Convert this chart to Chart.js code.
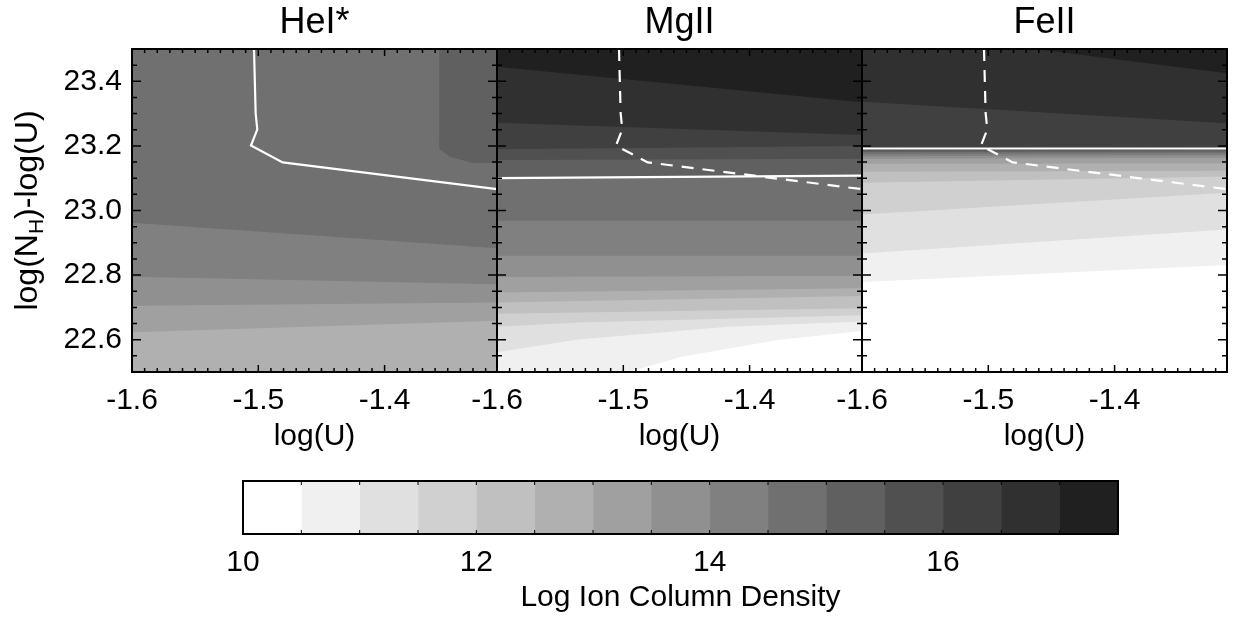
<!DOCTYPE html>
<html>
<head>
<meta charset="utf-8">
<script src="https://cdn.jsdelivr.net/npm/chart.js@4.4.1/dist/chart.umd.min.js"></script>
<style>
  html, body { margin: 0; padding: 0; background: #fff; overflow: hidden; }
  #wrap { position: relative; width: 1238px; height: 620px; }
  canvas { position: absolute; }
</style>
</head>
<body>
<div id="wrap">
  <canvas id="heCanvas" width="517" height="460" style="left:0;top:0"></canvas>
  <canvas id="mgCanvas" width="445" height="460" style="left:437px;top:0"></canvas>
  <canvas id="feCanvas" width="435" height="460" style="left:802px;top:0"></canvas>
  <canvas id="barCanvas" width="960" height="180" style="left:200px;top:440px"></canvas>
</div>
<script>
// contour levels (log ion column density) and the gray used for each band
const levels = [10, 10.5, 11, 11.5, 12, 12.5, 13, 13.5, 14, 14.5, 15, 15.5, 16, 16.5, 17, 17.5];
const grays = [255, 240, 224, 208, 192, 176, 160, 144, 128, 112, 96, 80, 64, 48, 32];
const cbarTicks = [10, 12, 14, 16];

const xMin = -1.6, xMax = -1.311;
const yMin = 22.5, yMax = 23.5;
const xTicks = [-1.6, -1.5, -1.4];
const yTicks = [22.6, 22.8, 23.0, 23.2, 23.4];

// lower edge of each level band: [level index, [logU, logNH-logU] points]
const heBands = [
  [5, [[xMin, 22.5], [xMax, 22.5]]],
  [6, [[xMin, 22.623], [xMax, 22.659]]],
  [7, [[xMin, 22.705], [xMax, 22.715]]],
  [8, [[xMin, 22.795], [xMax, 22.772]]],
  [9, [[xMin, 22.962], [xMax, 22.883]]],
  [10, [[-1.3567, 23.5], [-1.354, 23.255], [-1.3601, 23.2], [-1.3482, 23.166], [-1.3298, 23.147], [xMax, 23.147]]]
];
const mgBands = [
  [0, [[xMin, 22.5], [xMax, 22.5]]],
  [1, [[xMin, 22.5], [-1.496, 22.5], [-1.4538, 22.547], [-1.3775, 22.599], [xMax, 22.627]]],
  [2, [[xMin, 22.561], [-1.5359, 22.601], [-1.4171, 22.640], [xMax, 22.656]]],
  [3, [[xMin, 22.640], [-1.5359, 22.653], [xMax, 22.676]]],
  [4, [[xMin, 22.680], [xMax, 22.697]]],
  [5, [[xMin, 22.715], [xMax, 22.735]]],
  [6, [[xMin, 22.746], [xMax, 22.759]]],
  [7, [[xMin, 22.794], [xMax, 22.798]]],
  [8, [[xMin, 22.860], [xMax, 22.860]]],
  [9, [[xMin, 22.968], [xMax, 22.968]]],
  [10, [[xMin, 23.100], [xMax, 23.108]]],
  [11, [[xMin, 23.156], [xMax, 23.160]]],
  [12, [[xMin, 23.190], [xMax, 23.200]]],
  [13, [[xMin, 23.272], [xMax, 23.234]]],
  [14, [[xMin, 23.445], [xMax, 23.335]]]
];
const feBands = [
  [0, [[xMin, 22.5], [xMax, 22.5]]],
  [1, [[xMin, 22.779], [xMax, 22.831]]],
  [2, [[xMin, 22.867], [xMax, 22.941]]],
  [3, [[xMin, 22.988], [xMax, 23.055]]],
  [4, [[xMin, 23.086], [xMax, 23.105]]],
  [5, [[xMin, 23.120], [xMax, 23.123]]],
  [6, [[xMin, 23.145], [xMax, 23.146]]],
  [7, [[xMin, 23.160], [xMax, 23.163]]],
  [8, [[xMin, 23.168], [xMax, 23.171]]],
  [9, [[xMin, 23.175], [xMax, 23.177]]],
  [10, [[xMin, 23.181], [xMax, 23.183]]],
  [11, [[xMin, 23.186], [xMax, 23.187]]],
  [12, [[xMin, 23.190], [xMax, 23.191]]],
  [13, [[xMin, 23.337], [xMax, 23.270]]],
  [14, [[-1.463, 23.5], [xMax, 23.425]]]
];

// white constraint lines
const heLine = [[-1.5034, 23.5], [-1.5021, 23.301], [-1.5008, 23.251], [-1.5058, 23.201], [-1.4807, 23.149], [xMax, 23.066]];
const mgLine = [[xMin, 23.100], [xMax, 23.108]];
const feLine = [[xMin, 23.192], [xMax, 23.192]];

const FONT = "'Liberation Sans', Arial, Helvetica, sans-serif";

function gray(i) {
  const g = grays[i];
  return 'rgb(' + g + ',' + g + ',' + g + ')';
}

function toXY(pts) {
  return pts.map(p => ({x: p[0], y: p[1]}));
}

// frame, inward ticks, panel title and (first panel only) y title
const panelDecor = {
  id: 'panelDecor',
  afterDraw(chart, args, o) {
    const {ctx, chartArea: a} = chart;
    const x = chart.scales.x, y = chart.scales.y;
    ctx.save();
    ctx.strokeStyle = '#000';
    ctx.lineWidth = 1.5;
    ctx.beginPath();
    for (let k = 0; k <= 28; k++) {
      const px = x.getPixelForValue(xMin + 0.01 * k);
      const len = k % 10 === 0 ? 7 : 4;
      ctx.moveTo(px, a.bottom); ctx.lineTo(px, a.bottom - len);
      ctx.moveTo(px, a.top); ctx.lineTo(px, a.top + len);
    }
    for (let k = 0; k <= 20; k++) {
      const py = y.getPixelForValue(yMin + 0.05 * k);
      const len = k % 4 === 2 ? 9 : 5;
      ctx.moveTo(a.left, py); ctx.lineTo(a.left + len, py);
      ctx.moveTo(a.right, py); ctx.lineTo(a.right - len, py);
    }
    ctx.stroke();
    ctx.lineWidth = 2;
    ctx.strokeRect(a.left, a.top, a.right - a.left, a.bottom - a.top);

    ctx.fillStyle = '#000';
    ctx.font = '36px ' + FONT;
    ctx.textAlign = 'center';
    ctx.textBaseline = 'alphabetic';
    ctx.fillText(o.title, (a.left + a.right) / 2, a.top - 16);

    if (o.yTitle) {
      ctx.translate(26, (a.top + a.bottom) / 2);
      ctx.rotate(-Math.PI / 2);
      const big = '32px ' + FONT, small = '21px ' + FONT;
      ctx.font = big;
      const w1 = ctx.measureText('log(N').width;
      const w3 = ctx.measureText(')-log(U)').width;
      ctx.font = small;
      const w2 = ctx.measureText('H').width;
      let pos = -(w1 + w2 + w3) / 2;
      ctx.textAlign = 'left';
      ctx.font = big;
      ctx.fillText('log(N', pos, 11);
      pos += w1;
      ctx.font = small;
      ctx.fillText('H', pos, 17);
      pos += w2;
      ctx.font = big;
      ctx.fillText(')-log(U)', pos, 11);
    }
    ctx.restore();
  }
};

function makePanel(id, title, bands, solid, dashed, padLeft, padRight, showY) {
  const datasets = [];
  bands.forEach(b => {
    datasets.push({
      data: toXY(b[1]),
      fill: 'end',
      backgroundColor: gray(b[0]),
      borderColor: 'rgba(0,0,0,0)',
      borderWidth: 0,
      pointRadius: 0,
      order: 100 - b[0]
    });
  });
  datasets.push({
    data: toXY(solid), fill: false, borderColor: '#fff', borderWidth: 2.2,
    pointRadius: 0, order: 0
  });
  if (dashed) {
    datasets.push({
      data: toXY(dashed), fill: false, borderColor: '#fff', borderWidth: 2.2,
      borderDash: [12, 9], pointRadius: 0, order: 0
    });
  }

  new Chart(document.getElementById(id), {
    type: 'line',
    data: {datasets: datasets},
    options: {
      responsive: false,
      animation: false,
      events: [],
      layout: {padding: {left: padLeft, right: padRight, top: 49, bottom: 5}},
      elements: {line: {tension: 0}},
      plugins: {
        legend: {display: false},
        tooltip: {enabled: false},
        panelDecor: {title: title, yTitle: showY}
      },
      scales: {
        x: {
          type: 'linear',
          min: xMin,
          max: xMax,
          grid: {display: false, drawTicks: false},
          border: {display: false},
          afterBuildTicks: s => { s.ticks = xTicks.map(v => ({value: v})); },
          afterFit: s => { s.height = 83; },
          ticks: {
            autoSkip: false, maxRotation: 0, padding: 11, color: '#000',
            font: {family: FONT, size: 30},
            callback: v => v.toFixed(1)
          },
          title: {display: true, text: 'log(U)', color: '#000', padding: 0, font: {family: FONT, size: 30}}
        },
        y: {
          type: 'linear',
          min: yMin,
          max: yMax,
          display: showY,
          grid: {display: false, drawTicks: false},
          border: {display: false},
          afterBuildTicks: s => { s.ticks = yTicks.map(v => ({value: v})); },
          afterFit: s => { s.width = showY ? 132 : 0; },
          ticks: {
            autoSkip: false, padding: 10, color: '#000',
            font: {family: FONT, size: 30},
            callback: v => v.toFixed(1)
          }
        }
      }
    },
    plugins: [panelDecor]
  });
}

makePanel('heCanvas', 'HeI*', heBands, heLine, null, 0, 20, true);
makePanel('mgCanvas', 'MgII', mgBands, mgLine, heLine, 60, 20, false);
makePanel('feCanvas', 'FeII', feBands, feLine, heLine, 60, 10, false);

// colour bar
const cbarFrame = {
  id: 'cbarFrame',
  afterDraw(chart) {
    const {ctx, chartArea: a} = chart;
    const x = chart.scales.x;
    ctx.save();
    ctx.strokeStyle = '#000';
    ctx.lineWidth = 1;
    ctx.beginPath();
    levels.forEach(v => {
      const px = x.getPixelForValue(v);
      ctx.moveTo(px, a.bottom); ctx.lineTo(px, a.bottom - 4);
      ctx.moveTo(px, a.top); ctx.lineTo(px, a.top + 4);
    });
    ctx.stroke();
    ctx.lineWidth = 2;
    ctx.strokeRect(a.left, a.top, a.right - a.left, a.bottom - a.top);
    ctx.restore();
  }
};

new Chart(document.getElementById('barCanvas'), {
  type: 'bar',
  data: {
    labels: [''],
    datasets: grays.map((g, i) => ({
      data: [[levels[i], levels[i + 1]]],
      backgroundColor: gray(i),
      borderWidth: 0
    }))
  },
  options: {
    indexAxis: 'y',
    responsive: false,
    animation: false,
    events: [],
    grouped: false,
    barPercentage: 1,
    categoryPercentage: 1,
    layout: {padding: {left: 43, right: 42, top: 41, bottom: 4}},
    plugins: {legend: {display: false}, tooltip: {enabled: false}},
    scales: {
      x: {
        type: 'linear',
        min: 10,
        max: 17.5,
        grid: {display: false, drawTicks: false},
        border: {display: false},
        afterBuildTicks: s => { s.ticks = cbarTicks.map(v => ({value: v})); },
        afterFit: s => { s.height = 82; },
        ticks: {autoSkip: false, maxRotation: 0, padding: 11, color: '#000', font: {family: FONT, size: 30}},
        title: {display: true, text: 'Log Ion Column Density', color: '#000', padding: 0, font: {family: FONT, size: 30}}
      },
      y: {display: false}
    }
  },
  plugins: [cbarFrame]
});
</script>
</body>
</html>
